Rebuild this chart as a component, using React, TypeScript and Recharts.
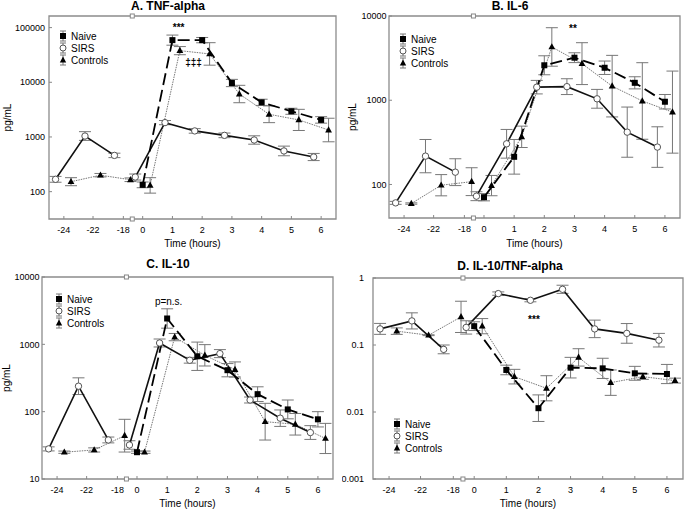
import React from "react"
import {
  LineChart,
  Line,
  XAxis,
  YAxis,
  ErrorBar,
  ReferenceArea,
  ReferenceDot,
  Legend,
} from "recharts"

const FONT = '"Liberation Sans", Arial, Helvetica, sans-serif'

// broken time axis: pre-op block on the left, 0-6 h on the right
const X_MIN = -3.15
const X_MAX = 6.5
const X_BREAK = -0.35
const TICK_POS = [-2.65, -1.67, -0.65, 0, 1, 2, 3, 4, 5, 6]
const TICK_LABELS = ["-24", "-22", "-18", "0", "1", "2", "3", "4", "5", "6"]

const HOURS = [0, 1, 2, 3, 4, 5, 6]
const PRE_SIRS = [-2.93, -1.94, -0.95]
const PRE_CONTROLS = [-2.41, -1.42, -0.41]
const SIRS_SHIFT = -0.25
const CONTROLS_SHIFT = 0.25

// A. TNF-alpha (pg/mL)
const A_NAIVE = [133, 59000, 59000, 9700, 4300, 2950, 2050]
const A_NAIVE_HI = [150, 73000, 66000, 11300, 4900, 3350, 2350]
const A_SIRS_PRE = [168, 1040, 460]
const A_SIRS_PRE_HI = [190, 1250, 505]
const A_SIRS = [185, 1830, 1290, 1070, 880, 555, 430]
const A_SIRS_HI = [210, 2000, 1420, 1180, 1050, 680, 500]
const A_CTRL_PRE = [152, 200, 165]
const A_CTRL_PRE_HI = [180, 215, 178]
const A_CTRL = [130, 37900, 33000, 6100, 2600, 2050, 1340]
const A_CTRL_HI = [180, 45000, 53000, 8800, 3700, 3200, 2200]

// B. IL-6
const B_NAIVE = [70.6, 213, 2600, 3200, 2430, 1610, 960]
const B_NAIVE_HI = [78, 342, 3370, 3660, 2920, 1900, 1170]
const B_SIRS_PRE = [60.5, 217, 140]
const B_SIRS_PRE_HI = [63, 342, 202]
const B_SIRS = [72.6, 304, 1430, 1450, 1040, 418, 278]
const B_SIRS_HI = [82, 450, 1720, 1800, 1345, 830, 484]
const B_CTRL_PRE = [59.4, 98, 108]
const B_CTRL_PRE_HI = [60.5, 131, 158]
const B_CTRL = [97, 368, 4290, 2720, 1470, 980, 723]
const B_CTRL_HI = [128, 493, 7260, 4820, 3410, 2790, 2220]

// C. IL-10
const C_NAIVE = [25, 2420, 665, 413, 182, 108, 77]
const C_NAIVE_HI = [26, 3370, 1080, 518, 234, 149, 100]
const C_SIRS_PRE = [28, 239, 38]
const C_SIRS_PRE_HI = [30, 318, 42]
const C_SIRS = [32, 1047, 580, 728, 149, 80, 49]
const C_SIRS_HI = [37, 1200, 640, 835, 165, 106, 62]
const C_CTRL_PRE = [25, 27, 44]
const C_CTRL_PRE_HI = [26, 29, 77]
const C_CTRL = [25, 1280, 687, 423, 71, 65, 40]
const C_CTRL_HI = [26, 1450, 990, 548, 133, 94, 67]

// D. IL-10/TNF-alpha ratio
const D_NAIVE = [0.191, 0.0424, 0.0114, 0.0459, 0.0448, 0.0378, 0.0369]
const D_NAIVE_HI = [0.222, 0.05, 0.018, 0.0654, 0.0634, 0.048, 0.0513]
const D_SIRS_PRE = [0.174, 0.229, 0.086]
const D_SIRS_PRE_HI = [0.21, 0.302, 0.1]
const D_SIRS = [0.183, 0.585, 0.465, 0.678, 0.174, 0.149, 0.118]
const D_SIRS_HI = [0.23, 0.62, 0.49, 0.78, 0.235, 0.209, 0.149]
const D_CTRL_PRE = [0.161, 0.14, 0.263]
const D_CTRL_PRE_HI = [0.18, 0.142, 0.45]
const D_CTRL = [0.191, 0.0337, 0.0226, 0.0653, 0.0274, 0.0337, 0.0294]
const D_CTRL_HI = [0.248, 0.0433, 0.0348, 0.088, 0.0424, 0.037, 0.032]

type Pt = { x: number; v: number; err: [number, number] }

// error bars are symmetric on the log scale
function series(xs: number[], vals: number[], hi: number[]): Pt[] {
  return xs.map((x, i) => {
    const v = vals[i]
    const lo = (v * v) / hi[i]
    return { x, v, err: [v - lo, hi[i] - v] }
  })
}

const shifted = (d: number) => HOURS.map((h) => h + d)

const square = (p: any) =>
  p.cx == null ? <g key={`s${p.index}`} /> : (
    <rect key={`s${p.index}`} x={p.cx - 3} y={p.cy - 3} width={6} height={6} fill="#000" />
  )
const circle = (p: any) =>
  p.cx == null ? <g key={`c${p.index}`} /> : (
    <circle key={`c${p.index}`} cx={p.cx} cy={p.cy} r={3.2} fill="#fff" stroke="#555" strokeWidth={1} />
  )
const triangle = (p: any) =>
  p.cx == null ? <g key={`t${p.index}`} /> : (
    <path
      key={`t${p.index}`}
      d={`M${p.cx},${p.cy - 3.8}L${p.cx + 3.4},${p.cy + 2.4}L${p.cx - 3.4},${p.cy + 2.4}Z`}
      fill="#000"
    />
  )

function LegendIcon({ kind }: { kind: string }) {
  return (
    <svg width={10} height={12} style={{ display: "block", marginRight: 3 }}>
      <line x1={5} y1={1} x2={5} y2={11} stroke="#777" />
      <line x1={2} y1={1} x2={8} y2={1} stroke="#777" />
      <line x1={2} y1={11} x2={8} y2={11} stroke="#777" />
      {kind === "naive" && <rect x={2} y={3} width={6} height={6} fill="#000" />}
      {kind === "sirs" && <circle cx={5} cy={6} r={3} fill="#fff" stroke="#555" />}
      {kind === "controls" && <path d="M5,2.4L8.2,8.4L1.8,8.4Z" fill="#000" />}
    </svg>
  )
}

const LEGEND_ITEMS = [
  { kind: "naive", label: "Naive" },
  { kind: "sirs", label: "SIRS" },
  { kind: "controls", label: "Controls" },
]

function legendContent() {
  return (
    <div style={{ fontFamily: FONT, fontSize: 10, color: "#000" }}>
      {LEGEND_ITEMS.map((it) => (
        <div key={it.kind} style={{ display: "flex", alignItems: "center", height: 12 }}>
          <LegendIcon kind={it.kind} />
          <span>{it.label}</span>
        </div>
      ))}
    </div>
  )
}

type Note = { x: number; y: number; text: string; size?: number; bold?: boolean }

type PanelProps = {
  title: string
  titleTop: number
  left: number
  top: number
  width: number
  height: number
  margin: { top: number; right: number; bottom: number; left: number }
  yWidth: number
  xHeight: number
  yDomain: [number, number]
  yTicks: number[]
  yTickMargin: number
  yLabel?: string
  yLabelOffset?: number
  xLabelOffset: number
  legendPos: { left: number; top: number }
  notes: Note[]
  naive: number[]
  naiveHi: number[]
  sirsPre: number[]
  sirsPreHi: number[]
  sirs: number[]
  sirsHi: number[]
  ctrlPre: number[]
  ctrlPreHi: number[]
  ctrl: number[]
  ctrlHi: number[]
}

const tickStyle = { fontSize: 9, fill: "#000", fontFamily: FONT }
const errProps = { dataKey: "err", width: 6, stroke: "#777", strokeWidth: 1, direction: "y" as const }

function Panel(props: PanelProps) {
  const [yLo, yHi] = props.yDomain
  const breakMark = (p: any) => (
    <rect x={p.cx - 2} y={p.cy - 2} width={4} height={4} fill="#fff" stroke="#888" strokeWidth={1} />
  )
  return (
    <div style={{ position: "absolute", left: props.left, top: props.top, width: props.width, height: props.height }}>
      <div
        style={{
          position: "absolute",
          left: 0,
          width: 336,
          top: props.titleTop - 7,
          lineHeight: "14px",
          textAlign: "center",
          fontFamily: FONT,
          fontWeight: "bold",
          fontSize: 12,
          zIndex: 2,
        }}
      >
        {props.title}
      </div>
      <LineChart width={props.width} height={props.height} margin={props.margin}>
        <XAxis
          type="number"
          dataKey="x"
          domain={[X_MIN, X_MAX]}
          allowDataOverflow
          ticks={TICK_POS}
          tickFormatter={(v: number) => TICK_LABELS[TICK_POS.indexOf(v)] ?? ""}
          height={props.xHeight}
          axisLine={false}
          tickSize={-3}
          tickMargin={11}
          tickLine={{ stroke: "#888" }}
          tick={tickStyle}
          interval={0}
          label={{
            value: "Time (hours)",
            position: "insideBottom",
            offset: props.xLabelOffset,
            style: { fontSize: 10, fill: "#000", fontFamily: FONT },
          }}
        />
        <YAxis
          type="number"
          scale="log"
          domain={props.yDomain}
          allowDataOverflow
          ticks={props.yTicks}
          tickFormatter={(v: number) => String(v)}
          width={props.yWidth}
          axisLine={false}
          tickSize={-3}
          tickMargin={props.yTickMargin}
          tickLine={{ stroke: "#888" }}
          tick={tickStyle}
          interval={0}
          label={
            props.yLabel
              ? {
                  value: props.yLabel,
                  angle: -90,
                  position: "insideLeft",
                  offset: props.yLabelOffset,
                  style: { textAnchor: "middle", fontSize: 10, fill: "#000", fontFamily: FONT },
                }
              : undefined
          }
        />
        <ReferenceArea x1={X_MIN} x2={X_MAX} y1={yLo} y2={yHi} fill="none" stroke="#8c8c8c" strokeWidth={1.3} />
        <ReferenceDot x={X_BREAK} y={yHi} shape={breakMark} ifOverflow="visible" />
        <ReferenceDot x={X_BREAK} y={yLo} shape={breakMark} ifOverflow="visible" />

        <Line
          data={series(PRE_CONTROLS, props.ctrlPre, props.ctrlPreHi)}
          dataKey="v"
          stroke="#777"
          strokeWidth={1}
          strokeDasharray="1.5 1"
          dot={triangle}
          activeDot={false}
          isAnimationActive={false}
        >
          <ErrorBar {...errProps} />
        </Line>
        <Line
          data={series(shifted(CONTROLS_SHIFT), props.ctrl, props.ctrlHi)}
          dataKey="v"
          stroke="#777"
          strokeWidth={1}
          strokeDasharray="1.5 1"
          dot={triangle}
          activeDot={false}
          isAnimationActive={false}
        >
          <ErrorBar {...errProps} />
        </Line>
        <Line
          data={series(PRE_SIRS, props.sirsPre, props.sirsPreHi)}
          dataKey="v"
          stroke="#111"
          strokeWidth={1.6}
          dot={circle}
          activeDot={false}
          isAnimationActive={false}
        >
          <ErrorBar {...errProps} />
        </Line>
        <Line
          data={series(shifted(SIRS_SHIFT), props.sirs, props.sirsHi)}
          dataKey="v"
          stroke="#111"
          strokeWidth={1.6}
          dot={circle}
          activeDot={false}
          isAnimationActive={false}
        >
          <ErrorBar {...errProps} />
        </Line>
        <Line
          data={series(HOURS, props.naive, props.naiveHi)}
          dataKey="v"
          stroke="#000"
          strokeWidth={1.8}
          strokeDasharray="12 5"
          dot={square}
          activeDot={false}
          isAnimationActive={false}
        >
          <ErrorBar {...errProps} />
        </Line>

        {props.notes.map((n, i) => (
          <ReferenceDot
            key={i}
            x={n.x}
            y={n.y}
            r={1}
            fill="none"
            stroke="none"
            ifOverflow="visible"
            label={{
              value: n.text,
              position: "center",
              fill: "#000",
              fontSize: n.size ?? 10,
              fontWeight: n.bold ? "bold" : "normal",
              fontFamily: FONT,
            }}
          />
        ))}

        <Legend
          layout="vertical"
          align="center"
          verticalAlign="middle"
          content={legendContent}
          wrapperStyle={{ left: props.legendPos.left, top: props.legendPos.top, width: 80, height: 36 }}
        />
      </LineChart>
    </div>
  )
}

export default function App() {
  return (
    <div style={{ position: "absolute", left: 0, top: 0, width: 685, height: 509, background: "#fff" }}>
      <Panel
        title="A. TNF-alpha"
        titleTop={6}
        left={0}
        top={0}
        width={342}
        height={254}
        margin={{ top: 16, right: 6, bottom: 0, left: 0 }}
        yWidth={49}
        xHeight={35}
        yDomain={[31.6, 163000]}
        yTicks={[100, 1000, 10000, 100000]}
        yTickMargin={7}
        yLabel="pg/mL"
        yLabelOffset={7}
        xLabelOffset={7.5}
        legendPos={{ left: 58, top: 30 }}
        notes={[
          { x: 1.21, y: 100000, text: "***", bold: true },
          { x: 1.71, y: 22600, text: "‡‡‡", bold: true },
        ]}
        naive={A_NAIVE}
        naiveHi={A_NAIVE_HI}
        sirsPre={A_SIRS_PRE}
        sirsPreHi={A_SIRS_PRE_HI}
        sirs={A_SIRS}
        sirsHi={A_SIRS_HI}
        ctrlPre={A_CTRL_PRE}
        ctrlPreHi={A_CTRL_PRE_HI}
        ctrl={A_CTRL}
        ctrlHi={A_CTRL_HI}
      />
      <Panel
        title="B. IL-6"
        titleTop={6}
        left={342}
        top={0}
        width={343}
        height={254}
        margin={{ top: 16, right: 5, bottom: 0, left: 0 }}
        yWidth={47}
        xHeight={36}
        yDomain={[40, 10000]}
        yTicks={[100, 1000, 10000]}
        yTickMargin={5.5}
        yLabel="pg/mL"
        yLabelOffset={10}
        xLabelOffset={7.5}
        legendPos={{ left: 56, top: 33 }}
        notes={[{ x: 2.95, y: 7140, text: "**", bold: true }]}
        naive={B_NAIVE}
        naiveHi={B_NAIVE_HI}
        sirsPre={B_SIRS_PRE}
        sirsPreHi={B_SIRS_PRE_HI}
        sirs={B_SIRS}
        sirsHi={B_SIRS_HI}
        ctrlPre={B_CTRL_PRE}
        ctrlPreHi={B_CTRL_PRE_HI}
        ctrl={B_CTRL}
        ctrlHi={B_CTRL_HI}
      />
      <Panel
        title="C. IL-10"
        titleTop={10}
        left={0}
        top={254}
        width={342}
        height={255}
        margin={{ top: 23, right: 9, bottom: 0, left: 0 }}
        yWidth={42}
        xHeight={30}
        yDomain={[10, 10000]}
        yTicks={[10, 100, 1000, 10000]}
        yTickMargin={5.5}
        yLabel="pg/mL"
        yLabelOffset={6}
        xLabelOffset={2.5}
        legendPos={{ left: 54, top: 39 }}
        notes={[{ x: 1.05, y: 4370, text: "p=n.s." }]}
        naive={C_NAIVE}
        naiveHi={C_NAIVE_HI}
        sirsPre={C_SIRS_PRE}
        sirsPreHi={C_SIRS_PRE_HI}
        sirs={C_SIRS}
        sirsHi={C_SIRS_HI}
        ctrlPre={C_CTRL_PRE}
        ctrlPreHi={C_CTRL_PRE_HI}
        ctrl={C_CTRL}
        ctrlHi={C_CTRL_HI}
      />
      <Panel
        title="D. IL-10/TNF-alpha"
        titleTop={11.5}
        left={342}
        top={254}
        width={343}
        height={255}
        margin={{ top: 24, right: 2, bottom: 0, left: 0 }}
        yWidth={31}
        xHeight={30}
        yDomain={[0.001, 1]}
        yTicks={[0.001, 0.01, 0.1, 1]}
        yTickMargin={12}
        xLabelOffset={2.5}
        legendPos={{ left: 50, top: 164 }}
        notes={[{ x: 1.86, y: 0.238, text: "***", bold: true }]}
        naive={D_NAIVE}
        naiveHi={D_NAIVE_HI}
        sirsPre={D_SIRS_PRE}
        sirsPreHi={D_SIRS_PRE_HI}
        sirs={D_SIRS}
        sirsHi={D_SIRS_HI}
        ctrlPre={D_CTRL_PRE}
        ctrlPreHi={D_CTRL_PRE_HI}
        ctrl={D_CTRL}
        ctrlHi={D_CTRL_HI}
      />
    </div>
  )
}
